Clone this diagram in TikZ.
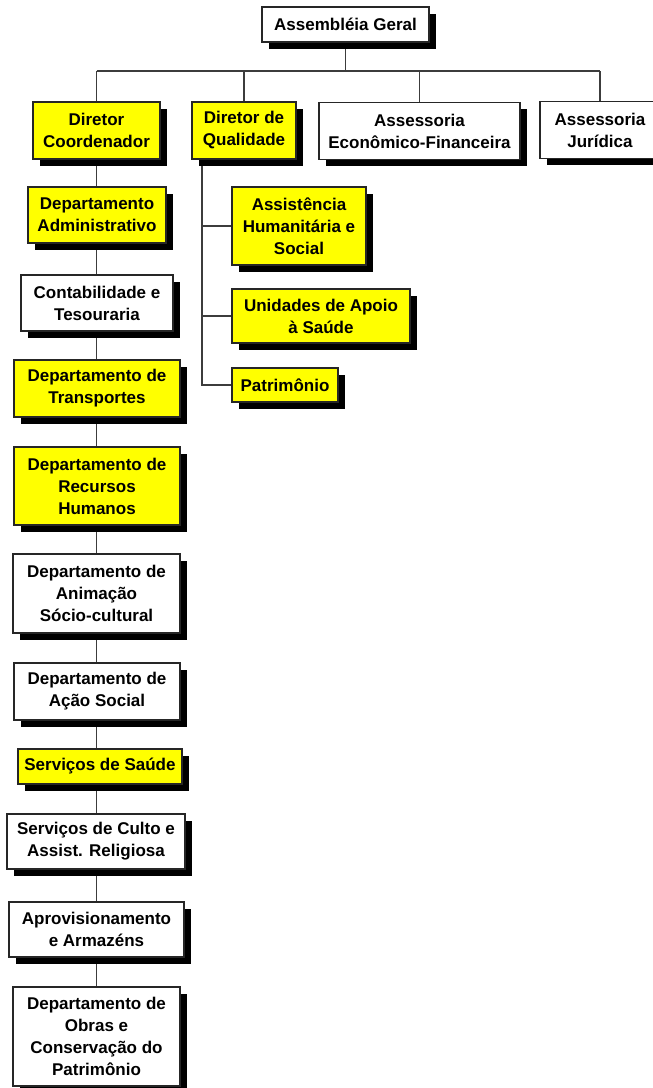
\documentclass[tikz,border=0pt]{standalone}
\usepackage{fontspec}
\setmainfont{Liberation Sans}
\usetikzlibrary{shadows,backgrounds}
\definecolor{boxyellow}{RGB}{255,255,0}
\definecolor{linegray}{RGB}{60,60,60}
\tikzset{
  orgbox/.style={draw=black!85, line width=1.3pt, align=center, inner sep=0pt,
    font=\fontsize{17}{22}\selectfont\bfseries,
    drop shadow={shadow xshift=6.5pt, shadow yshift=-6.5pt, fill=black, opacity=1}},
  ybox/.style={orgbox, fill=boxyellow},
  wbox/.style={orgbox, fill=white},
  conn/.style={draw=linegray, line width=1.2pt}
}
\begin{document}
\begin{tikzpicture}[x=1pt,y=-1pt]
\useasboundingbox (0,0) rectangle (653,1088);
% top level
\node[wbox, minimum width=167pt, minimum height=35pt] (ag) at (345.5,24.5) {Assembléia Geral};
\node[ybox, minimum width=127pt, minimum height=57pt] (dc) at (96.5,130.5) {Diretor\\Coordenador};
\node[ybox, minimum width=104pt, minimum height=57pt] (dq) at (244,130.5) {Diretor de\\Qualidade};
\node[wbox, minimum width=201pt, minimum height=57pt] (ef) at (419.5,131) {Assessoria\\Econômico-Financeira};
\node[wbox, minimum width=120pt, minimum height=57pt] (aj) at (600,130) {Assessoria\\Jurídica};
% left column
\node[ybox, minimum width=138pt, minimum height=56pt] (adm) at (97,215) {Departamento\\Administrativo};
\node[wbox, minimum width=152pt, minimum height=56pt] (ct) at (97,303) {Contabilidade e\\Tesouraria};
\node[ybox, minimum width=166pt, minimum height=57pt] (tr) at (97,388.5) {Departamento de\\Transportes};
\node[ybox, minimum width=166pt, minimum height=78pt] (rh) at (97,486) {Departamento de\\Recursos\\Humanos};
\node[wbox, minimum width=167pt, minimum height=79pt] (an) at (96.5,593.5) {Departamento de\\Animação\\Sócio-cultural};
\node[wbox, minimum width=166pt, minimum height=57pt] (as) at (97,691.5) {Departamento de\\Ação Social};
\node[ybox, minimum width=164pt, minimum height=35pt] (ss) at (100,766.5) {Serviços de Saúde};
\node[wbox, minimum width=178pt, minimum height=55pt] (cu) at (96,841.5) {Serviços de Culto e\\Assist. Religiosa};
\node[wbox, minimum width=175pt, minimum height=55pt] (ap) at (96.5,929.5) {Aprovisionamento\\e Armazéns};
\node[wbox, minimum width=167pt, minimum height=99pt] (ob) at (96.5,1036.5) {Departamento de\\Obras e\\Conservação do\\Patrimônio};
% right column
\node[ybox, minimum width=134pt, minimum height=78pt] (ah) at (299,226) {Assistência\\Humanitária e\\Social};
\node[ybox, minimum width=178pt, minimum height=54pt] (ua) at (321,316) {Unidades de Apoio\\à Saúde};
\node[ybox, minimum width=106pt, minimum height=34pt] (pa) at (285,385) {Patrimônio};
% connectors
\coordinate (bus) at (345.5,71);
\coordinate (colx) at (96.5,0);
\coordinate (qx) at (202,0);
\begin{scope}[on background layer]
\draw[conn] (ag.south) -- (bus);
\draw[conn] (dc.north |- bus) -- (aj.north |- bus);
\draw[conn] (dc.north |- bus) -- (dc.north);
\draw[conn] (dq.north |- bus) -- (dq.north);
\draw[conn] (ef.north |- bus) -- (ef.north);
\draw[conn] (aj.north |- bus) -- (aj.north);
\foreach \a/\b in {dc/adm, adm/ct, ct/tr, tr/rh, rh/an, an/as, as/ss, ss/cu, cu/ap, ap/ob}
  \draw[conn] (\a.south -| colx) -- (\b.north -| colx);
\draw[conn] (dq.south -| qx) |- (pa.west);
\draw[conn] (dq.south -| qx) |- (ah.west);
\draw[conn] (dq.south -| qx) |- (ua.west);
\end{scope}
\end{tikzpicture}
\end{document}
